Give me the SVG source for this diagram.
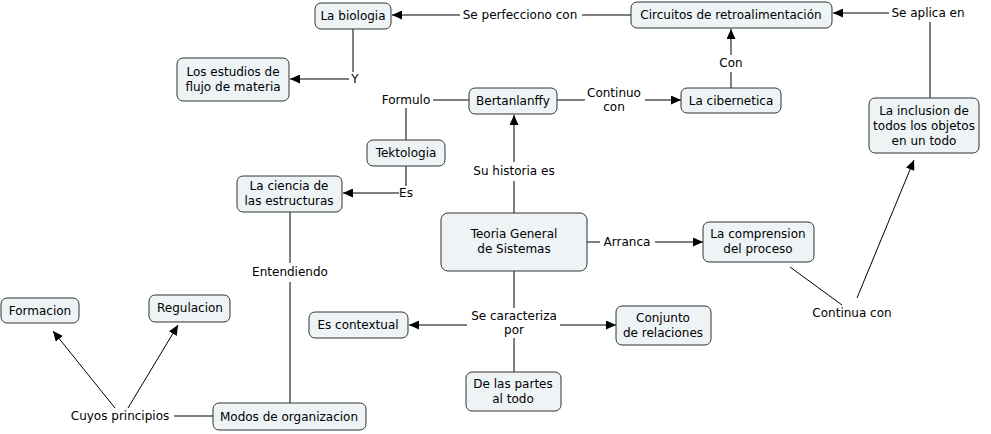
<svg xmlns="http://www.w3.org/2000/svg" width="991" height="434" viewBox="0 0 991 434">
<defs>
<marker id="ah" markerWidth="11" markerHeight="9" refX="10" refY="4.5" orient="auto" markerUnits="userSpaceOnUse">
<path d="M0,0 L10,4.5 L0,9 z" fill="#000"/>
</marker>
<style>
.n rect{fill:#eef3f6;stroke:#333;stroke-width:1}
text{font-family:"DejaVu Sans","Noto Sans",sans-serif;font-size:12px;fill:#000;text-anchor:middle}
.c line{stroke:#000;stroke-width:1}
.a{marker-end:url(#ah)}
</style>
</defs>
<rect width="991" height="434" fill="#fff"/>
<g class="c" id="connectors">
<line x1="631" y1="15" x2="582" y2="15"/>
<line class="a" x1="460" y1="15" x2="392" y2="15"/>
<line x1="353" y1="29" x2="353" y2="72"/>
<line class="a" x1="349" y1="79" x2="290" y2="79"/>
<line x1="930" y1="98" x2="930" y2="22"/>
<line class="a" x1="889" y1="13" x2="833" y2="13"/>
<line x1="731" y1="88" x2="731" y2="72"/>
<line class="a" x1="731" y1="55" x2="731" y2="29"/>
<line x1="406" y1="140" x2="406" y2="108"/>
<line x1="433" y1="100" x2="469" y2="100"/>
<line x1="557" y1="100" x2="585" y2="100"/>
<line class="a" x1="645" y1="100" x2="681" y2="100"/>
<line x1="514" y1="213" x2="514" y2="181"/>
<line class="a" x1="514" y1="162" x2="514" y2="115"/>
<line x1="406" y1="166" x2="406" y2="186"/>
<line class="a" x1="399" y1="193" x2="343" y2="193"/>
<line x1="290" y1="212" x2="290" y2="263"/>
<line x1="290" y1="282" x2="290" y2="403"/>
<line x1="213" y1="416" x2="174" y2="416"/>
<line class="a" x1="115" y1="408" x2="53" y2="331"/>
<line class="a" x1="128" y1="408" x2="178" y2="325"/>
<line x1="587" y1="242" x2="600" y2="242"/>
<line class="a" x1="655" y1="242" x2="703" y2="242"/>
<line x1="790" y1="267" x2="842" y2="305"/>
<line class="a" x1="857" y1="298" x2="914" y2="160"/>
<line x1="514" y1="271" x2="514" y2="308"/>
<line class="a" x1="467" y1="325" x2="409" y2="325"/>
<line class="a" x1="560" y1="325" x2="616" y2="325"/>
<line x1="514" y1="338" x2="514" y2="372"/>
</g>
<g id="labels">
<text x="520" y="19">Se perfecciono con</text>
<text x="355" y="83">Y</text>
<text x="928" y="17">Se aplica en</text>
<text x="731" y="67">Con</text>
<text x="406" y="104">Formulo</text>
<text x="614" y="97">Continuo</text>
<text x="614" y="111">con</text>
<text x="514" y="175">Su historia es</text>
<text x="406" y="197">Es</text>
<text x="290" y="276">Entendiendo</text>
<text x="120" y="420">Cuyos principios</text>
<text x="627" y="246">Arranca</text>
<text x="852" y="317">Continua con</text>
<text x="514" y="320">Se caracteriza</text>
<text x="514" y="334">por</text>
</g>
<g class="n" id="n-biologia"><rect x="315" y="3" width="76" height="26" rx="6"/><text x="353" y="20">La biologia</text></g>
<g class="n" id="n-circuitos"><rect x="631" y="2" width="201" height="26" rx="6"/><text x="731" y="19">Circuitos de retroalimentación</text></g>
<g class="n" id="n-estudios"><rect x="177" y="58" width="112" height="43" rx="6"/><text x="233" y="76">Los estudios de</text><text x="233" y="91">flujo de materia</text></g>
<g class="n" id="n-bertanlanffy"><rect x="469" y="88" width="88" height="26" rx="6"/><text x="513" y="105">Bertanlanffy</text></g>
<g class="n" id="n-cibernetica"><rect x="681" y="88" width="100" height="25" rx="6"/><text x="731" y="105">La cibernetica</text></g>
<g class="n" id="n-inclusion"><rect x="869" y="98" width="110" height="55" rx="6"/><text x="924" y="115">La inclusion de</text><text x="924" y="130">todos los objetos</text><text x="924" y="145">en un todo</text></g>
<g class="n" id="n-tektologia"><rect x="367" y="140" width="78" height="26" rx="6"/><text x="406" y="157">Tektologia</text></g>
<g class="n" id="n-ciencia"><rect x="237" y="176" width="105" height="36" rx="6"/><text x="289" y="190">La ciencia de</text><text x="289" y="205">las estructuras</text></g>
<g class="n" id="n-teoria"><rect x="441" y="213" width="146" height="58" rx="7"/><text x="514" y="238">Teoria General</text><text x="514" y="253">de Sistemas</text></g>
<g class="n" id="n-comprension"><rect x="703" y="222" width="111" height="40" rx="6"/><text x="758" y="238">La comprension</text><text x="758" y="253">del proceso</text></g>
<g class="n" id="n-formacion"><rect x="1" y="298" width="78" height="25" rx="6"/><text x="40" y="315">Formacion</text></g>
<g class="n" id="n-regulacion"><rect x="149" y="295" width="81" height="27" rx="6"/><text x="190" y="312">Regulacion</text></g>
<g class="n" id="n-contextual"><rect x="309" y="312" width="99" height="26" rx="6"/><text x="358" y="329">Es contextual</text></g>
<g class="n" id="n-conjunto"><rect x="616" y="306" width="95" height="39" rx="6"/><text x="663" y="322">Conjunto</text><text x="663" y="337">de relaciones</text></g>
<g class="n" id="n-partes"><rect x="466" y="372" width="95" height="39" rx="6"/><text x="513" y="388">De las partes</text><text x="513" y="403">al todo</text></g>
<g class="n" id="n-modos"><rect x="213" y="403" width="153" height="27" rx="6"/><text x="289" y="421">Modos de organizacion</text></g>
</svg>
